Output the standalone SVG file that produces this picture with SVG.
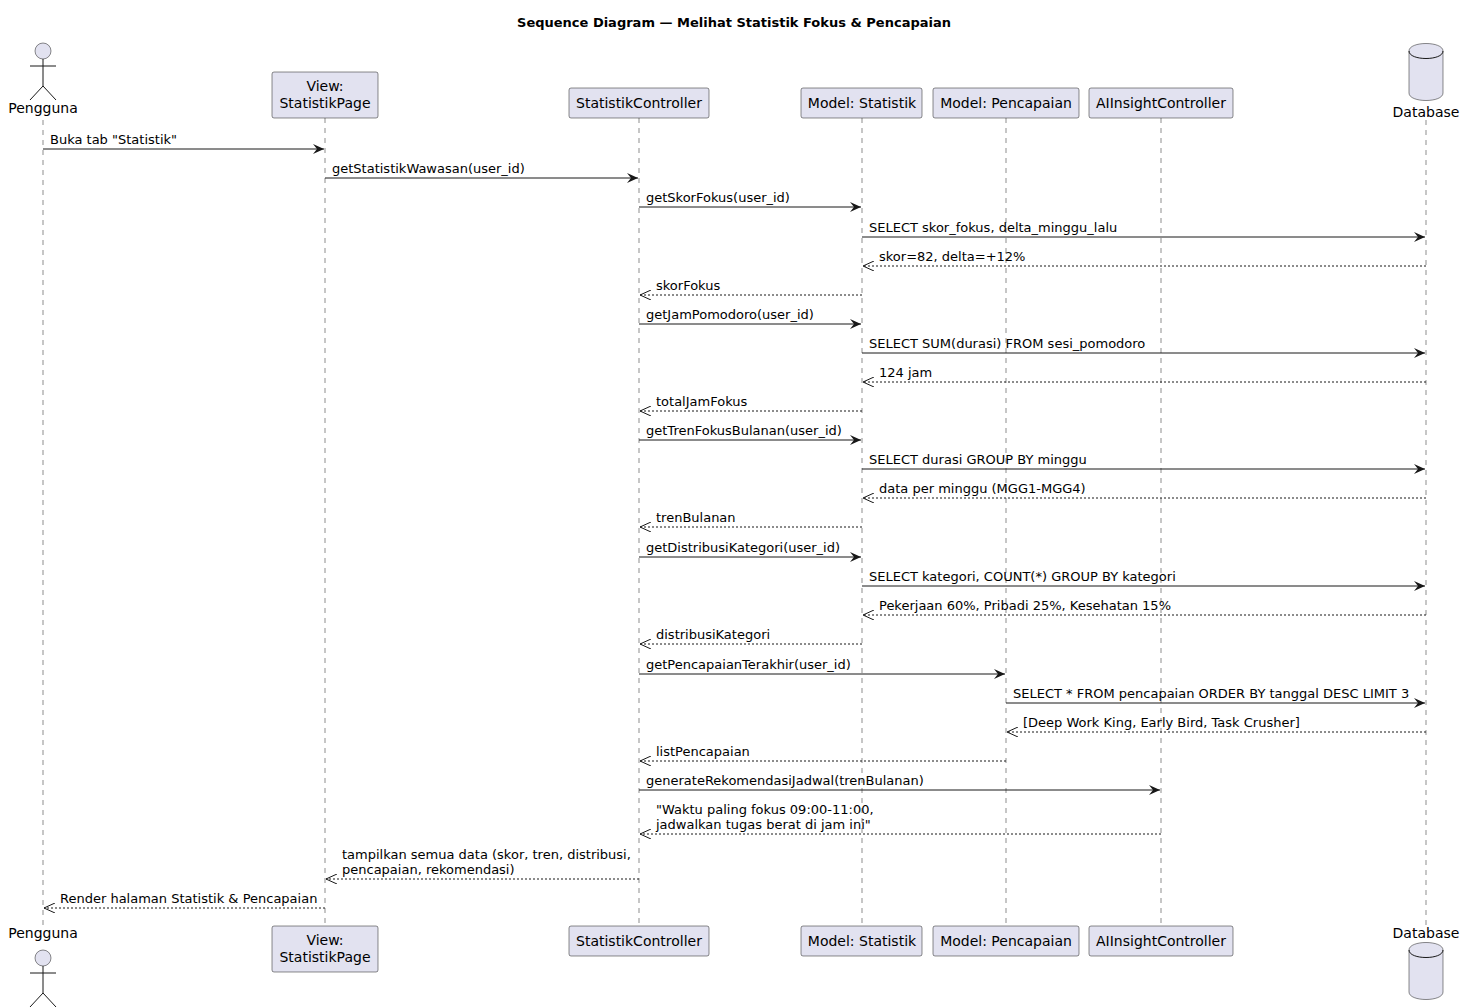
<svg xmlns="http://www.w3.org/2000/svg" width="1473" height="1007" viewBox="0 0 1473 1007">
<style>
text{font-family:"DejaVu Sans","Noto Sans",sans-serif;font-size:13px;fill:#000}
.t{font-weight:bold;font-size:13px}
.c{text-anchor:middle;font-size:14px}
.box{fill:#E2E2F0;stroke:#181818;stroke-width:0.5}
.life{stroke:#181818;stroke-width:0.5;stroke-dasharray:5,5}
.m{stroke:#181818;stroke-width:1;fill:none}
.r{stroke:#181818;stroke-width:1;fill:none;stroke-dasharray:2,2}
</style>
<defs>
<marker id="a" markerWidth="12" markerHeight="10" refX="11" refY="5" orient="auto" markerUnits="userSpaceOnUse"><path d="M0,0 L11,5 L0,10 L4,5 Z" fill="#181818"/></marker>
<marker id="o" markerWidth="12" markerHeight="10" refX="11" refY="5" orient="auto" markerUnits="userSpaceOnUse"><path d="M0,0 L11,5 L0,10" fill="none" stroke="#181818"/></marker>
</defs>
<rect width="1473" height="1007" fill="#fff"/>
<text class="t" x="734" y="27" text-anchor="middle">Sequence Diagram — Melihat Statistik Fokus &amp; Pencapaian</text>
<g id="lifelines">
<line class="life" x1="43" y1="120" x2="43" y2="926"/>
<line class="life" x1="325" y1="118" x2="325" y2="926"/>
<line class="life" x1="639" y1="118" x2="639" y2="926"/>
<line class="life" x1="862" y1="118" x2="862" y2="926"/>
<line class="life" x1="1006" y1="118" x2="1006" y2="926"/>
<line class="life" x1="1161" y1="118" x2="1161" y2="926"/>
<line class="life" x1="1426" y1="120" x2="1426" y2="926"/>
</g>
<g id="pengguna">
<circle class="box" cx="43" cy="51" r="8"/>
<path class="m" d="M43,59 V86 M30,66 H56 M30,100 L43,86 L56,100" stroke-width="0.5"/>
<text class="c" x="43" y="113">Pengguna</text>
<circle class="box" cx="43" cy="958" r="8"/>
<path class="m" d="M43,966 V993 M30,973 H56 M30,1007 L43,993 L56,1007" stroke-width="0.5"/>
<text class="c" x="43" y="938">Pengguna</text>
</g>
<g id="view">
<rect class="box" x="272" y="72" width="106" height="46" rx="2"/>
<text class="c" x="325" y="91">View:</text><text class="c" x="325" y="108">StatistikPage</text>
<rect class="box" x="272" y="926" width="106" height="46" rx="2"/>
<text class="c" x="325" y="945">View:</text><text class="c" x="325" y="962">StatistikPage</text>
</g>
<g id="ctrl">
<rect class="box" x="569" y="88" width="140" height="30" rx="2"/><text class="c" x="639" y="108">StatistikController</text>
<rect class="box" x="569" y="926" width="140" height="30" rx="2"/><text class="c" x="639" y="946">StatistikController</text>
</g>
<g id="mstat">
<rect class="box" x="801" y="88" width="121" height="30" rx="2"/><text class="c" x="862" y="108">Model: Statistik</text>
<rect class="box" x="801" y="926" width="121" height="30" rx="2"/><text class="c" x="862" y="946">Model: Statistik</text>
</g>
<g id="mpen">
<rect class="box" x="933" y="88" width="146" height="30" rx="2"/><text class="c" x="1006" y="108">Model: Pencapaian</text>
<rect class="box" x="933" y="926" width="146" height="30" rx="2"/><text class="c" x="1006" y="946">Model: Pencapaian</text>
</g>
<g id="ai">
<rect class="box" x="1089" y="88" width="144" height="30" rx="2"/><text class="c" x="1161" y="108">AIInsightController</text>
<rect class="box" x="1089" y="926" width="144" height="30" rx="2"/><text class="c" x="1161" y="946">AIInsightController</text>
</g>
<g id="db">
<path class="box" d="M1409,51 C1409,41 1443,41 1443,51 V93 C1443,103 1409,103 1409,93 Z"/>
<path class="m" d="M1409,51 C1409,61 1443,61 1443,51" stroke-width="0.5"/>
<text class="c" x="1426" y="117">Database</text>
<path class="box" d="M1409,950 C1409,940 1443,940 1443,950 V992 C1443,1002 1409,1002 1409,992 Z"/>
<path class="m" d="M1409,950 C1409,960 1443,960 1443,950" stroke-width="0.5"/>
<text class="c" x="1426" y="938">Database</text>
</g>
<g id="connectors">
<line class="m" x1="43" y1="149" x2="324" y2="149" marker-end="url(#a)"/><text x="50" y="144">Buka tab "Statistik"</text>
<line class="m" x1="325" y1="178" x2="638" y2="178" marker-end="url(#a)"/><text x="332" y="173">getStatistikWawasan(user_id)</text>
<line class="m" x1="639" y1="207" x2="861" y2="207" marker-end="url(#a)"/><text x="646" y="202">getSkorFokus(user_id)</text>
<line class="m" x1="862" y1="237" x2="1425" y2="237" marker-end="url(#a)"/><text x="869" y="232">SELECT skor_fokus, delta_minggu_lalu</text>
<line class="r" x1="1426" y1="266" x2="863" y2="266" marker-end="url(#o)"/><text x="879" y="261">skor=82, delta=+12%</text>
<line class="r" x1="862" y1="295" x2="640" y2="295" marker-end="url(#o)"/><text x="656" y="290">skorFokus</text>
<line class="m" x1="639" y1="324" x2="861" y2="324" marker-end="url(#a)"/><text x="646" y="319">getJamPomodoro(user_id)</text>
<line class="m" x1="862" y1="353" x2="1425" y2="353" marker-end="url(#a)"/><text x="869" y="348">SELECT SUM(durasi) FROM sesi_pomodoro</text>
<line class="r" x1="1426" y1="382" x2="863" y2="382" marker-end="url(#o)"/><text x="879" y="377">124 jam</text>
<line class="r" x1="862" y1="411" x2="640" y2="411" marker-end="url(#o)"/><text x="656" y="406">totalJamFokus</text>
<line class="m" x1="639" y1="440" x2="861" y2="440" marker-end="url(#a)"/><text x="646" y="435">getTrenFokusBulanan(user_id)</text>
<line class="m" x1="862" y1="469" x2="1425" y2="469" marker-end="url(#a)"/><text x="869" y="464">SELECT durasi GROUP BY minggu</text>
<line class="r" x1="1426" y1="498" x2="863" y2="498" marker-end="url(#o)"/><text x="879" y="493">data per minggu (MGG1-MGG4)</text>
<line class="r" x1="862" y1="527" x2="640" y2="527" marker-end="url(#o)"/><text x="656" y="522">trenBulanan</text>
<line class="m" x1="639" y1="557" x2="861" y2="557" marker-end="url(#a)"/><text x="646" y="552">getDistribusiKategori(user_id)</text>
<line class="m" x1="862" y1="586" x2="1425" y2="586" marker-end="url(#a)"/><text x="869" y="581">SELECT kategori, COUNT(*) GROUP BY kategori</text>
<line class="r" x1="1426" y1="615" x2="863" y2="615" marker-end="url(#o)"/><text x="879" y="610">Pekerjaan 60%, Pribadi 25%, Kesehatan 15%</text>
<line class="r" x1="862" y1="644" x2="640" y2="644" marker-end="url(#o)"/><text x="656" y="639">distribusiKategori</text>
<line class="m" x1="639" y1="674" x2="1005" y2="674" marker-end="url(#a)"/><text x="646" y="669">getPencapaianTerakhir(user_id)</text>
<line class="m" x1="1006" y1="703" x2="1425" y2="703" marker-end="url(#a)"/><text x="1013" y="698">SELECT * FROM pencapaian ORDER BY tanggal DESC LIMIT 3</text>
<line class="r" x1="1426" y1="732" x2="1007" y2="732" marker-end="url(#o)"/><text x="1023" y="727">[Deep Work King, Early Bird, Task Crusher]</text>
<line class="r" x1="1006" y1="761" x2="640" y2="761" marker-end="url(#o)"/><text x="656" y="756">listPencapaian</text>
<line class="m" x1="639" y1="790" x2="1160" y2="790" marker-end="url(#a)"/><text x="646" y="785">generateRekomendasiJadwal(trenBulanan)</text>
<line class="r" x1="1161" y1="834" x2="640" y2="834" marker-end="url(#o)"/><text x="656" y="814">"Waktu paling fokus 09:00-11:00,</text><text x="656" y="829">jadwalkan tugas berat di jam ini"</text>
<line class="r" x1="639" y1="879" x2="326" y2="879" marker-end="url(#o)"/><text x="342" y="859">tampilkan semua data (skor, tren, distribusi,</text><text x="342" y="874">pencapaian, rekomendasi)</text>
<line class="r" x1="325" y1="908" x2="44" y2="908" marker-end="url(#o)"/><text x="60" y="903">Render halaman Statistik &amp; Pencapaian</text>
</g>
</svg>
